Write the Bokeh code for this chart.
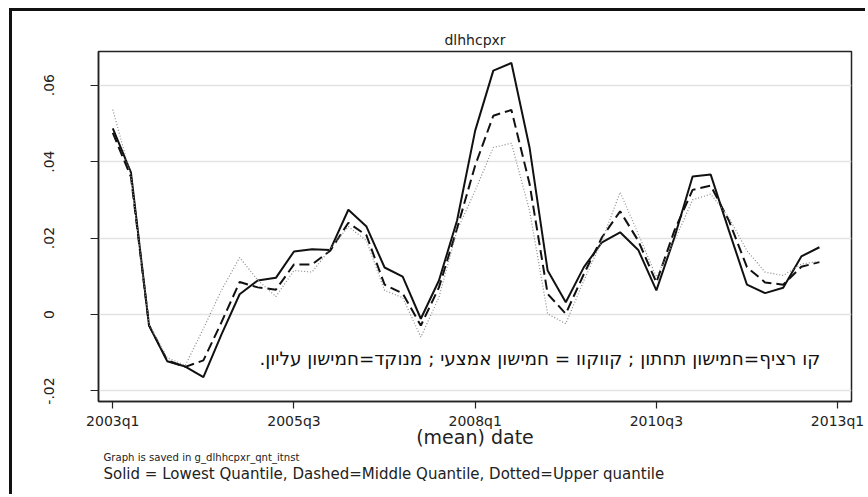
from bokeh.plotting import figure
from bokeh.models import Range1d, FixedTicker, Label, Title
from bokeh.embed import file_html
from bokeh.resources import INLINE

# quarter index 0 = 2003q1 ... 39 = 2012q4
quarters = list(range(40))
tick_pos = [0, 10, 20, 30, 40]
tick_labels = ["2003q1", "2005q3", "2008q1", "2010q3", "2013q1"]
y_ticks = [-0.02, 0.0, 0.02, 0.04, 0.06]
y_tick_labels = ["-.02", "0", ".02", ".04", ".06"]

lowest = [0.0487, 0.0372, -0.0029, -0.0122, -0.0136, -0.0164, -0.0052, 0.0053, 0.0089, 0.0096,
          0.0165, 0.0171, 0.0169, 0.0274, 0.0230, 0.0123, 0.0099, -0.0011, 0.0089, 0.0246,
          0.0481, 0.0638, 0.0658, 0.0437, 0.0115, 0.0032, 0.0124, 0.0189, 0.0215, 0.0169,
          0.0063, 0.0202, 0.0361, 0.0366, 0.0220, 0.0078, 0.0056, 0.0070, 0.0152, 0.0176]
middle = [0.0475, 0.0360, -0.0028, -0.0120, -0.0137, -0.0120, -0.0020, 0.0085, 0.0071, 0.0065,
          0.0131, 0.0131, 0.0167, 0.0240, 0.0207, 0.0078, 0.0055, -0.0029, 0.0071, 0.0225,
          0.0390, 0.0520, 0.0535, 0.0342, 0.0054, 0.0002, 0.0106, 0.0202, 0.0270, 0.0193,
          0.0084, 0.0220, 0.0326, 0.0337, 0.0246, 0.0124, 0.0084, 0.0078, 0.0125, 0.0137]
upper = [0.0536, 0.0362, -0.0025, -0.0113, -0.0133, -0.0037, 0.0064, 0.0149, 0.0090, 0.0047,
         0.0115, 0.0111, 0.0172, 0.0230, 0.0193, 0.0063, 0.0044, -0.0059, 0.0045, 0.0220,
         0.0324, 0.0437, 0.0448, 0.0272, 0.0002, -0.0024, 0.0089, 0.0193, 0.0320, 0.0211,
         0.0098, 0.0193, 0.0300, 0.0315, 0.0254, 0.0167, 0.0111, 0.0102, 0.0132, 0.0139]

hebrew_note = "קו רציף=חמישון תחתון ; קווקוו = חמישון אמצעי ; מנוקד=חמישון עליון.\u200f"
note1 = "Graph is saved in g_dlhhcpxr_qnt_itnst"
note2 = "Solid = Lowest Quantile, Dashed=Middle Quantile, Dotted=Upper quantile"

FONT = "DejaVu Sans"

# canvas sits at page (12, 11): 9/8 px margin + 3 px border
p = figure(width=856, height=486, output_backend="svg", toolbar_location=None,
           x_range=Range1d(-0.79, 40.77), y_range=Range1d(-0.02275, 0.0688),
           min_border_left=86, min_border_right=17, min_border_top=40, min_border_bottom=96)

p.styles = {"margin-left": "9px", "margin-top": "8px",
            "border-top": "3px solid #111111", "border-left": "3px solid #111111"}

p.title.text = "dlhhcpxr"
p.title.align = "center"
p.title.text_font = FONT
p.title.text_font_size = "14px"
p.title.text_font_style = "normal"
p.title.text_color = "#222222"
p.title.standoff = 7

p.outline_line_color = "#222222"
p.outline_line_width = 1.5
p.background_fill_color = "white"
p.border_fill_color = "white"

p.xgrid.visible = False
p.ygrid.ticker = FixedTicker(ticks=y_ticks)
p.ygrid.grid_line_color = "#e3e3e3"
p.ygrid.grid_line_width = 1.5

p.xaxis.ticker = FixedTicker(ticks=tick_pos)
p.xaxis.major_label_overrides = {t: l for t, l in zip(tick_pos, tick_labels)}
p.yaxis.ticker = FixedTicker(ticks=y_ticks)
p.yaxis.major_label_overrides = {t: l for t, l in zip(y_ticks, y_tick_labels)}

for ax in (p.xaxis[0], p.yaxis[0]):
    ax.axis_line_color = "#222222"
    ax.axis_line_width = 1.5
    ax.major_tick_line_color = "#222222"
    ax.major_tick_line_width = 1.2
    ax.major_tick_in = 0
    ax.minor_tick_line_color = None
    ax.major_label_text_font = FONT
    ax.major_label_text_font_size = "14px"
    ax.major_label_text_color = "#222222"

p.xaxis.major_tick_out = 7
p.xaxis.major_label_standoff = 4
p.yaxis.major_tick_out = 8
p.yaxis.major_label_standoff = 36
p.yaxis.major_label_orientation = "vertical"

p.xaxis.axis_label = "(mean) date"
p.xaxis.axis_label_text_font = FONT
p.xaxis.axis_label_text_font_size = "19px"
p.xaxis.axis_label_text_font_style = "normal"
p.xaxis.axis_label_text_color = "#222222"
p.xaxis.axis_label_standoff = -6

p.line(quarters, lowest, line_color="#111111", line_width=2)
p.line(quarters, middle, line_color="#111111", line_width=2, line_dash="10 5")
p.line(quarters, upper, line_color="#8a8a8a", line_width=1.2, line_dash="1 2")

p.add_layout(Label(x=39.05, y=-0.0115, text=hebrew_note, text_align="right",
                   text_baseline="middle", text_font=FONT, text_font_size="18.4px",
                   text_color="#111111"))

t1 = Title(text=note1, align="left", offset=5, text_font=FONT, text_font_size="10.1px",
           text_font_style="normal", text_color="#222222", standoff=-2)
t2 = Title(text=note2, align="left", offset=5, text_font=FONT, text_font_size="15px",
           text_font_style="normal", text_color="#222222", standoff=1.6)
p.add_layout(t1, "below")
p.add_layout(t2, "below")

open("out.html", "w").write(file_html(p, INLINE))
